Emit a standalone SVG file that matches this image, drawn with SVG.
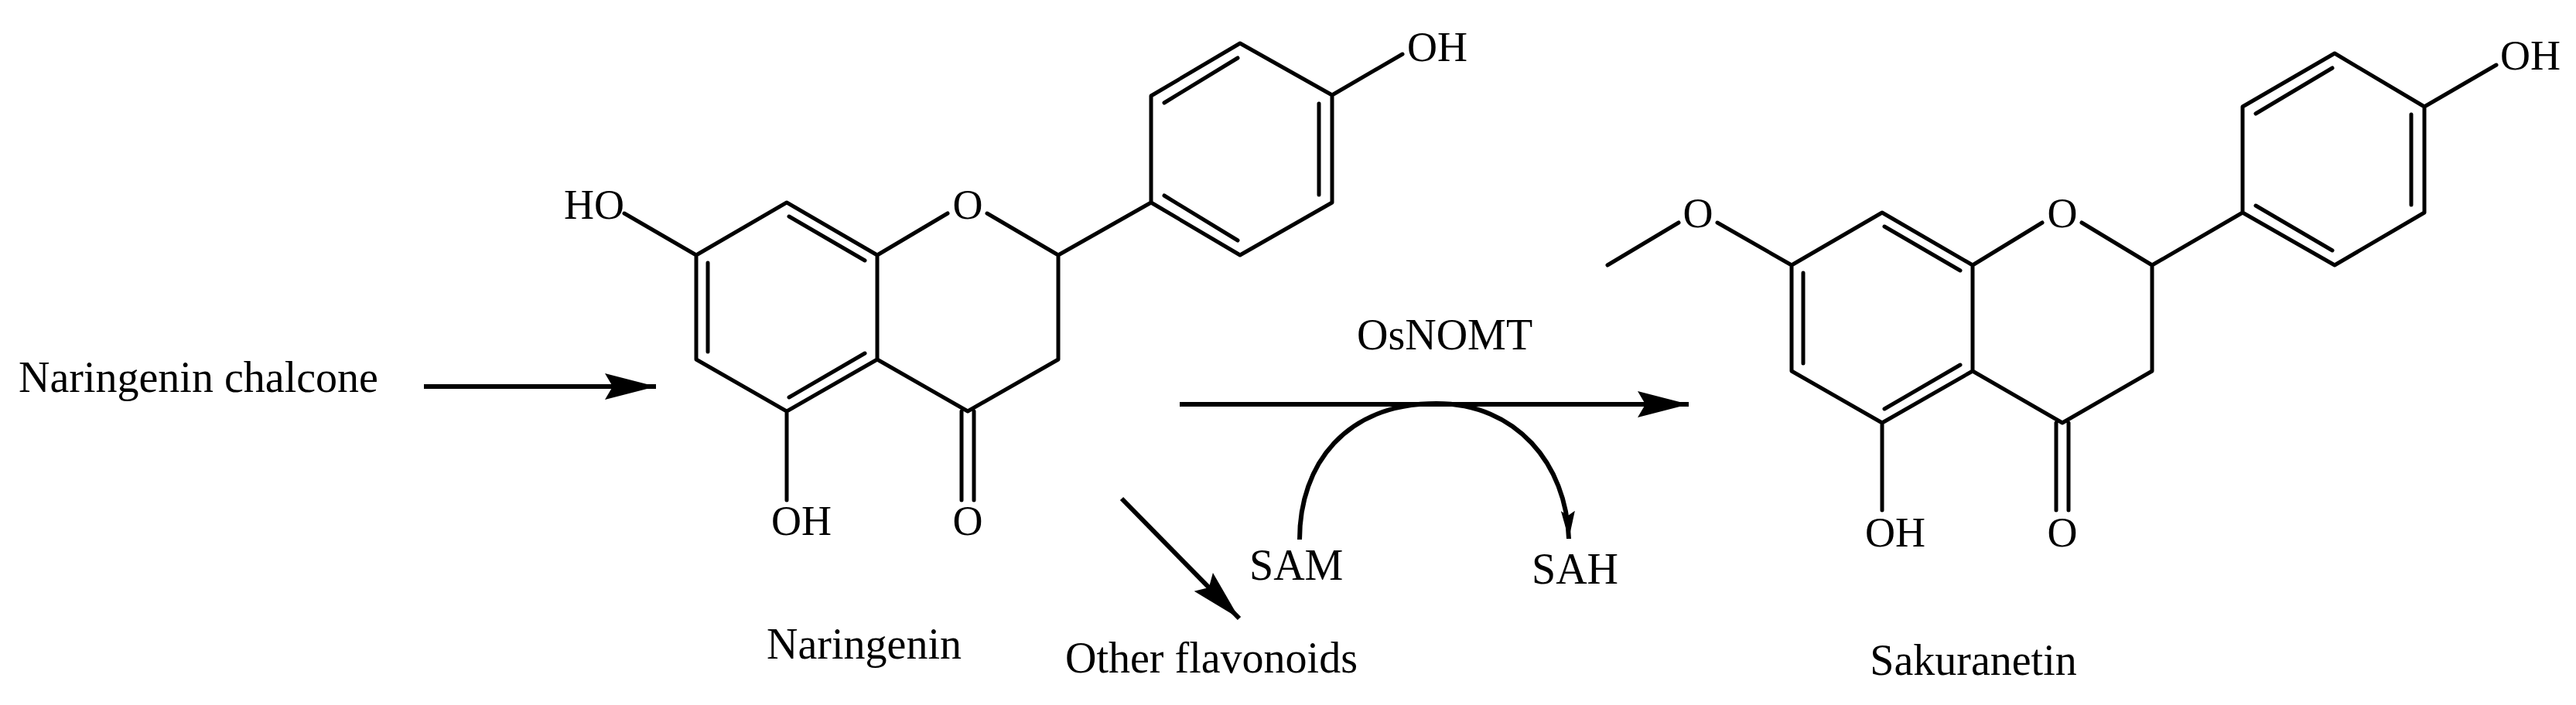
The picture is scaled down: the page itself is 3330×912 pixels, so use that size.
<svg xmlns="http://www.w3.org/2000/svg" width="3330" height="912" viewBox="0 0 3330 912">
<style>
text{font-family:"Liberation Serif","Times New Roman",serif;fill:#000}
.a{font-size:54px}
.l{font-size:56px}
.b{stroke:#000;stroke-width:5;fill:none;stroke-linecap:round;stroke-linejoin:round}
.c{stroke:#000;stroke-width:6;fill:none}
</style>
<defs>
<marker id="big" markerUnits="userSpaceOnUse" markerWidth="70" markerHeight="40" refX="66" refY="20" orient="auto" viewBox="0 0 70 40">
<path d="M0,3 L66,20 L0,37 L10,20 Z" fill="#000"/>
</marker>
<marker id="small" markerUnits="userSpaceOnUse" markerWidth="40" markerHeight="20" refX="36" refY="10" orient="auto" viewBox="0 0 40 20">
<path d="M0,1 L36,10 L0,19 L6,10 Z" fill="#000"/>
</marker>
</defs>
<rect width="3330" height="912" fill="#fff"/>

<g id="naringenin-chalcone"><text class="l" x="24" y="507">Naringenin chalcone</text></g>

<g id="naringenin">
<path class="b" d="M900,330 L1017,262 L1134,330 L1225,276 M1276,276 L1368,330 L1368,465 L1251,532 L1134,465 L1134,330 M1134,465 L1017,532 L900,465 L900,330 M807,276 L900,330 M1017,532 L1017,647 M1243,532 L1243,647 M1259,532 L1259,647 M1368,330 L1488,262 L1488,124 L1603,56 L1722,123 L1722,262 L1603,330 L1488,262 M1722,123 L1813,70"/>
<path class="b" d="M915,340 L915,455 M1020,280 L1118,337 M1020,514 L1118,457 M1505,133 L1600,75 M1705,134 L1705,252 M1505,253 L1600,311"/>
<text class="a" x="729" y="283">HO</text>
<text class="a" x="1251" y="283" text-anchor="middle">O</text>
<text class="a" x="1819" y="79">OH</text>
<text class="a" x="1036" y="692" text-anchor="middle">OH</text>
<text class="a" x="1251" y="692" text-anchor="middle">O</text>
<text class="l" x="1117" y="852" text-anchor="middle">Naringenin</text>
</g>

<g id="sakuranetin">
<path class="b" d="M2316,343 L2433,275 L2550,343 L2640,288 M2691,288 L2782,343 L2782,480 L2666,547 L2550,480 L2550,343 M2550,480 L2433,547 L2316,480 L2316,343 M2220,288 L2316,343 M2170,288 L2078,343 M2433,547 L2433,660 M2658,547 L2658,660 M2674,547 L2674,660 M2782,343 L2899,275 L2899,138 L3018,69 L3134,138 L3134,275 L3018,343 L2899,275 M3134,138 L3227,84"/>
<path class="b" d="M2331,353 L2331,470 M2436,293 L2534,350 M2436,529 L2534,472 M2916,147 L3015,88 M3117,148 L3117,265 M2916,266 L3015,324"/>
<text class="a" x="2195" y="294" text-anchor="middle">O</text>
<text class="a" x="2666" y="294" text-anchor="middle">O</text>
<text class="a" x="3232" y="90">OH</text>
<text class="a" x="2450" y="707" text-anchor="middle">OH</text>
<text class="a" x="2666" y="707" text-anchor="middle">O</text>
<text class="l" x="2551" y="873" text-anchor="middle">Sakuranetin</text>
</g>

<g id="other-flavonoids"><text class="l" x="1377" y="870">Other flavonoids</text></g>
<g id="labels">
<text class="l" x="1754" y="452">OsNOMT</text>
<text class="l" x="1615" y="750">SAM</text>
<text class="l" x="1980" y="755">SAH</text>
</g>

<g id="connectors">
<line class="c" x1="548" y1="500" x2="848" y2="500" marker-end="url(#big)"/>
<line class="c" x1="1525" y1="523" x2="2183" y2="523" marker-end="url(#big)"/>
<line class="c" x1="1450" y1="645" x2="1602" y2="800" marker-end="url(#big)"/>
<path class="c" d="M1680,698 C1680,600 1740,522 1857,522 C1960,522 2025,600 2028,697" marker-end="url(#small)"/>
</g>
</svg>
